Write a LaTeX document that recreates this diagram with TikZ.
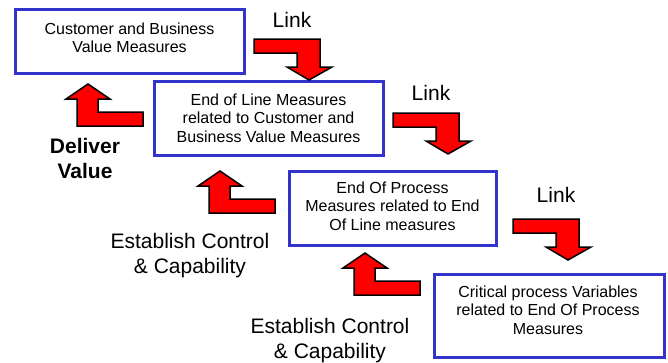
\documentclass[tikz,border=0pt]{standalone}
\usepackage{fontspec}
\setmainfont{Liberation Sans}
\begin{document}
\begin{tikzpicture}[x=1pt,y=-1pt,
  measbox/.style={draw=boxblue,line width=3pt,fill=white,inner sep=0pt},
  boxtext/.style={align=center,font=\fontsize{16}{18.5}\selectfont,inner sep=0pt},
  lbl/.style={align=center,font=\fontsize{21}{25}\selectfont,inner sep=0pt},
  blockarrow/.style={fill=red,draw=black,line width=1.5pt,line join=miter},
  linkarrow/.pic={\path[blockarrow] (0,0)--(66,0)--(66,28)--(78,28)--(55,41)--(33,28)--(43,28)--(43,14)--(0,14)--cycle;},
  uparrow/.pic={\path[blockarrow] (0,0)--(22,15)--(10,15)--(10,28)--(55,28)--(55,42)--(-11,42)--(-11,15)--(-22,15)--cycle;}
]
\definecolor{boxblue}{RGB}{51,51,204}
\useasboundingbox (0,0) rectangle (668,362);
\fill[white] (0,0) rectangle (668,362);

% boxes
\node[measbox,minimum width=229pt,minimum height=64pt] (b1) at (129.5,41) {};
\node[measbox,minimum width=229pt,minimum height=74pt] (b2) at (268.5,118) {};
\node[measbox,minimum width=207pt,minimum height=74pt] (b3) at (392.5,208) {};
\node[measbox,minimum width=230pt,minimum height=83pt] (b4) at (549,315.5) {};

\node[boxtext] (t1) at (129.5,38) {Customer and Business\\Value Measures};
\node[boxtext] (t2) at (268.5,118) {End of Line Measures\\related to Customer and\\Business Value Measures};
\node[boxtext] (t3) at (392.5,206) {End Of Process\\Measures related to End\\Of Line measures};
\node[boxtext] (t4) at (548,310) {Critical process Variables\\related to End Of Process\\Measures};

% link arrows
\pic at (254,39) {linkarrow};
\pic at (393,113) {linkarrow};
\pic at (513,219) {linkarrow};

% up arrows
\pic at (88,84) {uparrow};
\pic at (220,171) {uparrow};
\pic at (365,253) {uparrow};

% labels
\node[lbl] (l1) at (292,20) {Link};
\node[lbl] (l2) at (431,93) {Link};
\node[lbl] (l3) at (556,195) {Link};
\node[lbl,font=\fontsize{21}{25}\selectfont\bfseries] (dv) at (85,158.5) {Deliver\\Value};
\node[lbl] (ec1) at (190,256) {Establish Control\\\& Capability};
\node[lbl] (ec2) at (330,341) {Establish Control\\\& Capability};
\end{tikzpicture}
\end{document}
